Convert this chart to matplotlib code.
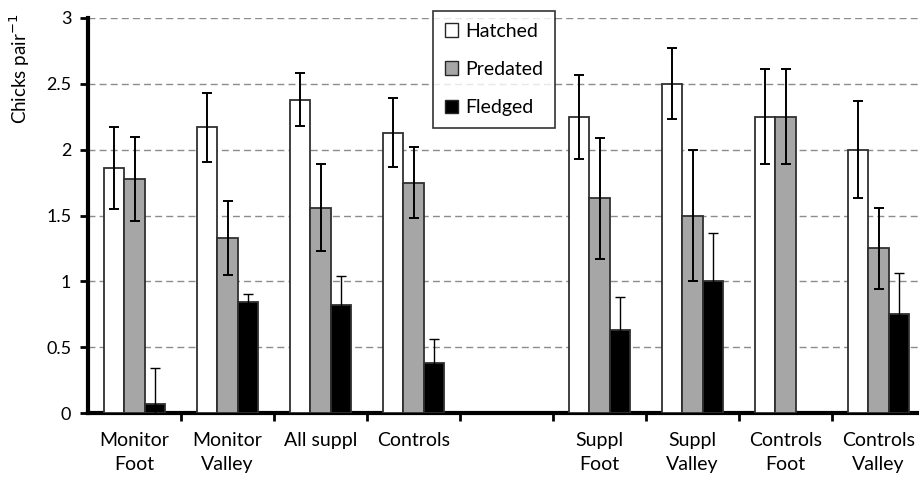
import matplotlib
matplotlib.use("Agg")
import matplotlib.pyplot as plt
from matplotlib.patches import Patch
import numpy as np

categories = ["Monitor\nFoot", "Monitor\nValley", "All suppl", "Controls", "",
              "Suppl\nFoot", "Suppl\nValley", "Controls\nFoot", "Controls\nValley"]
hatched = [1.86, 2.17, 2.38, 2.13, np.nan, 2.25, 2.50, 2.25, 2.00]
hatched_err = [0.31, 0.26, 0.20, 0.26, np.nan, 0.32, 0.27, 0.36, 0.37]
predated = [1.78, 1.33, 1.56, 1.75, np.nan, 1.63, 1.50, 2.25, 1.25]
predated_err = [0.32, 0.28, 0.33, 0.27, np.nan, 0.46, 0.50, 0.36, 0.31]
fledged = [0.07, 0.84, 0.82, 0.38, np.nan, 0.63, 1.00, np.nan, 0.75]
fledged_err = [0.27, 0.065, 0.22, 0.18, np.nan, 0.25, 0.37, np.nan, 0.31]
series_names = ["Hatched", "Predated", "Fledged"]
yticks = [0, 0.5, 1, 1.5, 2, 2.5, 3]
ytick_labels = ["0", "0.5", "1", "1.5", "2", "2.5", "3"]

plt.rcParams['font.family'] = ['Lato', 'DejaVu Sans']

W, H = 920, 479
fig = plt.figure(figsize=(W / 100, H / 100), dpi=100)
left, right, top, bottom = 88, 925, 18, 413
ax = fig.add_axes([left / W, (H - bottom) / H, (right - left) / W, (bottom - top) / H])

x = np.arange(len(categories))
bw = 0.222
colors = ["white", "#A6A6A6", "black"]
data = [(hatched, hatched_err), (predated, predated_err), (fledged, fledged_err)]
for i, ((vals, errs), c) in enumerate(zip(data, colors)):
    pos = x + (i - 1) * bw
    ax.bar(pos, vals, width=bw, color=c, edgecolor="#303030", linewidth=1.3, zorder=3)
    ax.errorbar(pos, vals, yerr=errs, fmt="none", ecolor="black",
                elinewidth=1.4 if i < 2 else 1.0, capsize=3.3,
                capthick=1.4 if i < 2 else 1.0, zorder=4)

ax.set_xlim(-0.5, len(categories) - 0.5)
ax.set_ylim(0, 3)
ax.set_yticks(yticks)
ax.set_yticklabels(ytick_labels, fontsize=13)
ax.yaxis.grid(True, linestyle=(0, (5, 3)), color="#8C8C8C", linewidth=1.0, zorder=0)
ax.set_axisbelow(True)

ax.set_xticks(x)
ax.set_xticklabels(categories, fontsize=14, linespacing=1.5, va="top")
ax.tick_params(axis="x", which="major", length=0, pad=14)
ax.set_xticks(np.arange(len(categories) - 1) + 0.5, minor=True)
ax.tick_params(axis="x", which="minor", length=6, width=2, direction="out")
ax.tick_params(axis="y", length=6, width=2, direction="out", pad=6)

for s in ["top", "right"]:
    ax.spines[s].set_visible(False)
ax.spines["left"].set_linewidth(3)
ax.spines["bottom"].set_linewidth(3)

fig.text(20 / W, 1 - 69 / H, "Chicks pair$^{\\mathsf{-1}}$", rotation=90, ha="center", va="center",
         fontsize=13.5)

handles = [Patch(facecolor=c, edgecolor="#262626", linewidth=1.0) for c in colors]
leg = ax.legend(handles, series_names, loc="upper left",
                bbox_to_anchor=((433 - left) / (right - left), (bottom - 11) / (bottom - top)),
                frameon=True, fancybox=False, fontsize=14, handlelength=0.7, handleheight=0.7,
                handletextpad=0.35, labelspacing=1.1, borderpad=0.6, borderaxespad=0)
leg.get_frame().set_edgecolor("black")
leg.get_frame().set_linewidth(1.2)

fig.savefig("out.png", dpi=100)
